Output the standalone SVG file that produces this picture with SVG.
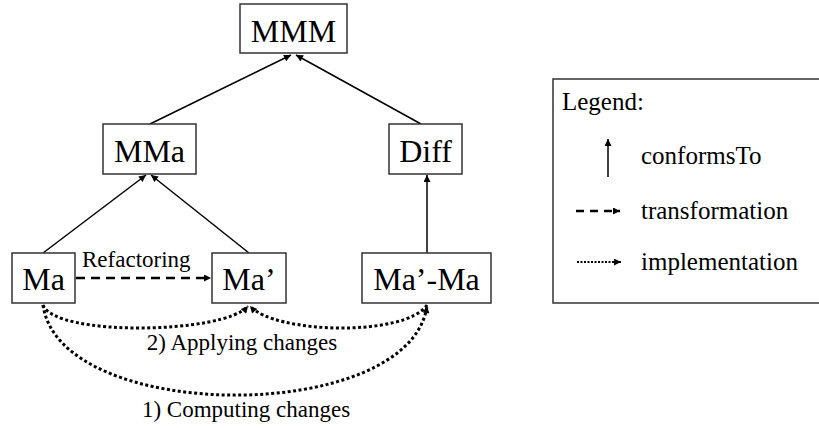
<svg xmlns="http://www.w3.org/2000/svg" width="819" height="428" viewBox="0 0 819 428">
<style>
.box{fill:#fff;stroke:#333;stroke-width:1.5}
.conf{fill:none;stroke:#000;stroke-width:1.5}
.dash{fill:none;stroke:#000;stroke-width:2.5;stroke-dasharray:9 6}
.dot{fill:none;stroke:#000;stroke-width:3;stroke-dasharray:3 2.5}
</style>
<defs>
<marker id="ah" viewBox="0 0 10 10" refX="10" refY="5" markerWidth="8" markerHeight="7" markerUnits="userSpaceOnUse" orient="auto">
<path d="M0,0 L10,5 L0,10 z" fill="#000"/>
</marker>
</defs>
<rect width="819" height="428" fill="#fff"/>
<g id="connectors">
<line class="conf" x1="150" y1="124" x2="291" y2="55" marker-end="url(#ah)"/>
<line class="conf" x1="421" y1="124" x2="296" y2="55" marker-end="url(#ah)"/>
<line class="conf" x1="43" y1="253" x2="146" y2="175" marker-end="url(#ah)"/>
<line class="conf" x1="249" y1="253" x2="151" y2="175" marker-end="url(#ah)"/>
<line class="conf" x1="427" y1="253" x2="427" y2="175" marker-end="url(#ah)"/>
<line class="dash" x1="76" y1="278" x2="211" y2="278" marker-end="url(#ah)"/>
<path class="dot" d="M43,305 C55,337 225,334 248,306" marker-end="url(#ah)"/>
<path class="dot" d="M427,305 C405,337 275,334 250,306" marker-end="url(#ah)"/>
<path class="dot" d="M43,305 C60,425 410,425 427,306" marker-end="url(#ah)"/>
<text x="82" y="267" font-family="Times New Roman" font-size="23">Refactoring</text>
<text x="242" y="350" font-family="Times New Roman" font-size="23" text-anchor="middle">2) Applying changes</text>
<text x="246" y="417" font-family="Times New Roman" font-size="23" text-anchor="middle">1) Computing changes</text>
</g>
<g id="MMM"><rect class="box" x="240" y="4" width="107" height="49"/><text x="293.5" y="42" font-family="Times New Roman" font-size="32" text-anchor="middle">MMM</text></g>
<g id="MMa"><rect class="box" x="103" y="124" width="93" height="50"/><text x="149.5" y="162" font-family="Times New Roman" font-size="32" text-anchor="middle">MMa</text></g>
<g id="Diff"><rect class="box" x="389" y="124" width="73" height="50"/><text x="425.5" y="162" font-family="Times New Roman" font-size="32" text-anchor="middle">Diff</text></g>
<g id="Ma"><rect class="box" x="12" y="253" width="63" height="50"/><text x="43.5" y="290" font-family="Times New Roman" font-size="32" text-anchor="middle">Ma</text></g>
<g id="Ma2"><rect class="box" x="212" y="253" width="74" height="50"/><text x="249" y="290" font-family="Times New Roman" font-size="32" text-anchor="middle">Ma’</text></g>
<g id="MaDiff"><rect class="box" x="362" y="253" width="129" height="50"/><text x="426.5" y="290" font-family="Times New Roman" font-size="32" text-anchor="middle">Ma’-Ma</text></g>
<g id="legend">
<rect class="box" x="553" y="79" width="280" height="224"/>
<line class="conf" x1="608" y1="177" x2="608" y2="139" marker-end="url(#ah)"/>
<line fill="none" stroke="#000" stroke-width="2.5" stroke-dasharray="8 6" x1="576" y1="211" x2="620" y2="211" marker-end="url(#ah)"/>
<line fill="none" stroke="#000" stroke-width="2" stroke-dasharray="2 1.5" x1="577" y1="262" x2="621" y2="262" marker-end="url(#ah)"/>
<text x="562" y="110" font-family="Times New Roman" font-size="25">Legend:</text>
<text x="641" y="164" font-family="Times New Roman" font-size="25">conformsTo</text>
<text x="641" y="219" font-family="Times New Roman" font-size="25">transformation</text>
<text x="641" y="270" font-family="Times New Roman" font-size="25">implementation</text>
</g>
</svg>
